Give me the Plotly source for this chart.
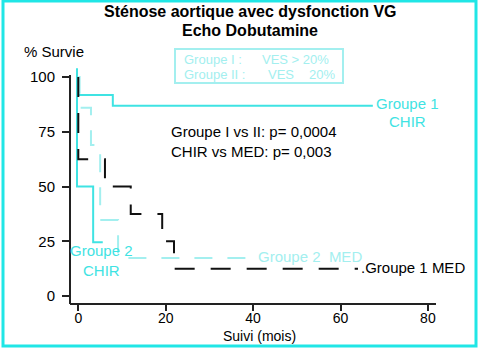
import plotly.graph_objects as go

# ---- data ----
g1_chir_t = [0, 0, 7.9, 67.4]
g1_chir_s = [100, 91.8, 86.9, 86.9]

g2_chir_t = [-0.3, -0.3, 3.4, 5.6]
g2_chir_s = [104, 50, 24.5, 24.5]

g1_med_t = [0, 0, 6.1, 12.0, 19.2, 21.9, 64]
g1_med_s = [100, 62.5, 50, 37.5, 25, 12.5, 12.5]

g2_med_t = [0, 0.3, 2.9, 5.0, 9.1, 38.9]
g2_med_s = [100, 86, 69, 34.7, 17.4, 17.4]

x_ticks = [0, 20, 40, 60, 80]
y_ticks = [0, 25, 50, 75, 100]

FONT = "Liberation Sans, Arial, sans-serif"
CYAN = "#3FE3E3"
LCYAN = "#A3EFEF"
BORDER = "#20E6E6"

W, H = 481, 348
L, R, T, B = 70, 436, 68, 304  # plot area in px


def px(x):
    return (x - L) / (R - L)


def py(y):
    return (B - y) / (B - T)


fig = go.Figure()
fig.add_trace(go.Scatter(x=g1_chir_t, y=g1_chir_s, mode="lines", line_shape="hv",
                         line=dict(color=CYAN, width=2)))
fig.add_trace(go.Scatter(x=g2_chir_t, y=g2_chir_s, mode="lines", line_shape="hv",
                         line=dict(color=CYAN, width=2)))
fig.add_trace(go.Scatter(x=g2_med_t, y=g2_med_s, mode="lines", line_shape="hv",
                         line=dict(color=LCYAN, width=2, dash="18px,15px")))
fig.add_trace(go.Scatter(x=g1_med_t, y=g1_med_s, mode="lines", line_shape="hv",
                         line=dict(color="#111111", width=2, dash="20px,16px")))

ann = []


def text(x, y, s, size=15, color="black", anchor="center", bold=False):
    if bold:
        s = "<b>" + s + "</b>"
    ann.append(dict(x=px(x), y=py(y), xref="paper", yref="paper", text=s,
                    showarrow=False, xanchor=anchor, yanchor="middle",
                    font=dict(family=FONT, size=size, color=color)))


text(250, 12, "Sténose aortique avec dysfonction VG", size=16, bold=True)
text(250, 31, "Echo Dobutamine", size=16, bold=True)
text(22, 52, "% Survie", anchor="left")
text(182, 59, "Groupe I :", size=13, color=LCYAN, anchor="left")
text(260, 59, "VES &gt; 20%", size=13, color=LCYAN, anchor="left")
text(182, 74, "Groupe II :", size=13, color=LCYAN, anchor="left")
text(266, 74, "VES", size=13, color=LCYAN, anchor="left")
text(307, 74, "20%", size=13, color=LCYAN, anchor="left")
text(407, 103, "Groupe 1", color=CYAN)
text(407, 122, "CHIR", color=CYAN)
text(169, 131, "Groupe I vs II: p= 0,0004", anchor="left")
text(169, 151, "CHIR vs MED: p= 0,003", anchor="left")
text(101, 251, "Groupe 2", color=CYAN)
text(101, 270, "CHIR", color=CYAN)
text(256, 256, "Groupe 2  MED", color=LCYAN, anchor="left")
text(359, 267, ".Groupe 1 MED", anchor="left")
text(259, 336, "Suivi (mois)", size=14)

shapes = [
    # outer border
    dict(type="rect", xref="paper", yref="paper", x0=px(3), x1=px(476), y0=py(346), y1=py(1),
         line=dict(color=BORDER, width=3)),
    # legend box
    dict(type="rect", xref="paper", yref="paper", x0=px(175), x1=px(343), y0=py(83), y1=py(49),
         line=dict(color=LCYAN, width=2)),
    # axes lines
    dict(type="line", xref="paper", yref="paper", x0=0, x1=0, y0=0, y1=py(75),
         line=dict(color="#222222", width=2)),
    dict(type="line", xref="paper", yref="paper", x0=0, x1=1, y0=0, y1=0,
         line=dict(color="#222222", width=2)),
]

x0v = 78.3
xs = 4.37
y0v = 296
ys = 2.19

fig.update_layout(
    width=W, height=H,
    margin=dict(l=L, r=W - R, t=T, b=H - B),
    paper_bgcolor="white", plot_bgcolor="white",
    showlegend=False,
    annotations=ann, shapes=shapes,
    font=dict(family=FONT, size=15, color="black"),
    xaxis=dict(range=[(L - x0v) / xs, (R - x0v) / xs], tickvals=x_ticks,
               ticks="outside", ticklen=6, tickwidth=1.5, tickcolor="#222222",
               ticklabelstandoff=-5,
               showgrid=False, zeroline=False, showline=False,
               tickfont=dict(family=FONT, size=14)),
    yaxis=dict(range=[(y0v - B) / ys, (y0v - T) / ys], tickvals=y_ticks,
               ticks="outside", ticklen=7, tickwidth=1.5, tickcolor="#222222",
               ticklabelstandoff=4,
               showgrid=False, zeroline=False, showline=False,
               tickfont=dict(family=FONT, size=15)),
)

fig.write_html("out.html")
